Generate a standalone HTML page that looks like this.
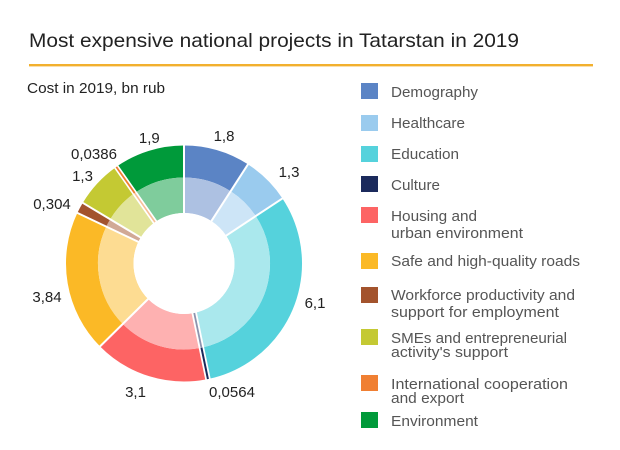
<!DOCTYPE html>
<html>
<head>
<meta charset="utf-8">
<style>
  html, body { margin:0; padding:0; background:#ffffff; }
  body { width:620px; height:450px; overflow:hidden; }
  svg { display:block; }
  text { font-family: "Liberation Sans", "DejaVu Sans", sans-serif; }
</style>
</head>
<body>
<svg width="620" height="450" viewBox="0 0 620 450" xmlns="http://www.w3.org/2000/svg">
  <rect x="0" y="0" width="620" height="450" fill="#ffffff"/>

  <!-- Title -->
  <text x="29" y="47" font-size="19.5" fill="#222222" textLength="490" lengthAdjust="spacingAndGlyphs">Most expensive national projects in Tatarstan in 2019</text>
  <rect x="29" y="64" width="564" height="2.4" fill="#f2b02e"/>
  <text x="27" y="93" font-size="15" fill="#222222" textLength="138" lengthAdjust="spacingAndGlyphs">Cost in 2019, bn rub</text>

  <!-- Donut -->
  <g transform="translate(184,263.5)">
    <!-- Outer ring r 86..118 -->
    <g fill="none" stroke-width="32">
      <circle r="102" pathLength="360" stroke="#5b84c5" stroke-dasharray="32.83 400" transform="rotate(-90)"/>
      <circle r="102" pathLength="360" stroke="#9acbee" stroke-dasharray="23.71 400" transform="rotate(-57.17)"/>
      <circle r="102" pathLength="360" stroke="#55d2dc" stroke-dasharray="111.25 400" transform="rotate(-33.46)"/>
      <circle r="102" pathLength="360" stroke="#fd6464" stroke-dasharray="56.54 400" transform="rotate(78.82)"/>
      <circle r="102" pathLength="360" stroke="#fbb926" stroke-dasharray="70.03 400" transform="rotate(135.36)"/>
      <circle r="102" pathLength="360" stroke="#a3532d" stroke-dasharray="5.54 400" transform="rotate(205.39)"/>
      <circle r="102" pathLength="360" stroke="#c4c933" stroke-dasharray="23.71 400" transform="rotate(210.93)"/>
      <circle r="102" pathLength="360" stroke="#009a3a" stroke-dasharray="34.65 400" transform="rotate(235.35)"/>
    </g>
    <!-- Inner ring r 50.5..86 -->
    <g fill="none" stroke-width="35.6">
      <circle r="68.25" pathLength="360" stroke="#adc1e2" stroke-dasharray="32.83 400" transform="rotate(-90)"/>
      <circle r="68.25" pathLength="360" stroke="#cde5f7" stroke-dasharray="23.71 400" transform="rotate(-57.17)"/>
      <circle r="68.25" pathLength="360" stroke="#aae8ed" stroke-dasharray="111.25 400" transform="rotate(-33.46)"/>
      <circle r="68.25" pathLength="360" stroke="#feb1b1" stroke-dasharray="56.54 400" transform="rotate(78.82)"/>
      <circle r="68.25" pathLength="360" stroke="#fddc92" stroke-dasharray="70.03 400" transform="rotate(135.36)"/>
      <circle r="68.25" pathLength="360" stroke="#d1a996" stroke-dasharray="5.54 400" transform="rotate(205.39)"/>
      <circle r="68.25" pathLength="360" stroke="#e1e499" stroke-dasharray="23.71 400" transform="rotate(210.93)"/>
      <circle r="68.25" pathLength="360" stroke="#7fcc9c" stroke-dasharray="34.65 400" transform="rotate(235.35)"/>
    </g>
    <!-- Separators -->
    <g stroke="#ffffff" stroke-width="2">
      <line x1="0" y1="-48" x2="0" y2="-121" transform="rotate(0)"/>
      <line x1="0" y1="-48" x2="0" y2="-121" transform="rotate(32.83)"/>
      <line x1="0" y1="-48" x2="0" y2="-121" transform="rotate(56.54)"/>
      <line x1="0" y1="-48" x2="0" y2="-121" transform="rotate(225.36)"/>
      <line x1="0" y1="-48" x2="0" y2="-121" transform="rotate(295.39)"/>
      <line x1="0" y1="-48" x2="0" y2="-121" transform="rotate(300.93)"/>
    </g>
    <!-- Culture (tiny) -->
    <g transform="rotate(168.3)">
      <line x1="0" y1="-48" x2="0" y2="-121" stroke="#ffffff" stroke-width="5.5"/>
      <line x1="0" y1="-86" x2="0" y2="-118" stroke="#1b2a5c" stroke-width="2"/>
      <line x1="0" y1="-50.5" x2="0" y2="-86" stroke="#8d94ae" stroke-width="1.8"/>
    </g>
    <!-- International (tiny) -->
    <g transform="rotate(325)">
      <line x1="0" y1="-48" x2="0" y2="-121" stroke="#ffffff" stroke-width="5"/>
      <line x1="0" y1="-86" x2="0" y2="-118" stroke="#f07f32" stroke-width="1.8"/>
      <line x1="0" y1="-50.5" x2="0" y2="-86" stroke="#f7bf98" stroke-width="1.6"/>
    </g>
    <circle r="50.5" fill="#ffffff"/>
  </g>

  <!-- Data labels -->
  <g font-size="15" fill="#222222" text-anchor="middle">
    <text x="224" y="141">1,8</text>
    <text x="289" y="177">1,3</text>
    <text x="315" y="308">6,1</text>
    <text x="232" y="397">0,0564</text>
    <text x="135.5" y="397">3,1</text>
    <text x="47" y="302">3,84</text>
    <text x="52" y="209">0,304</text>
    <text x="82.5" y="181">1,3</text>
    <text x="94" y="159">0,0386</text>
    <text x="149.3" y="143">1,9</text>
  </g>

  <!-- Legend -->
  <g>
    <rect x="361" y="83" width="17" height="16" fill="#5b84c5"/>
    <rect x="361" y="115" width="17" height="16" fill="#9acbee"/>
    <rect x="361" y="146" width="17" height="16" fill="#55d2dc"/>
    <rect x="361" y="176" width="17" height="16" fill="#1b2a5c"/>
    <rect x="361" y="207" width="17" height="16" fill="#fd6464"/>
    <rect x="361" y="253" width="17" height="16" fill="#fbb926"/>
    <rect x="361" y="287" width="17" height="16" fill="#a3532d"/>
    <rect x="361" y="329" width="17" height="16" fill="#c4c933"/>
    <rect x="361" y="375" width="17" height="16" fill="#f07f32"/>
    <rect x="361" y="412" width="17" height="16" fill="#009a3a"/>
  </g>
  <g font-size="15" fill="#555555">
    <text x="391" y="97" textLength="87" lengthAdjust="spacingAndGlyphs">Demography</text>
    <text x="391" y="128" textLength="74" lengthAdjust="spacingAndGlyphs">Healthcare</text>
    <text x="391" y="159" textLength="68" lengthAdjust="spacingAndGlyphs">Education</text>
    <text x="391" y="190" textLength="49" lengthAdjust="spacingAndGlyphs">Culture</text>
    <text x="391" y="221" textLength="86" lengthAdjust="spacingAndGlyphs">Housing and</text>
    <text x="391" y="238" textLength="132" lengthAdjust="spacingAndGlyphs">urban environment</text>
    <text x="391" y="266" textLength="189" lengthAdjust="spacingAndGlyphs">Safe and high-quality roads</text>
    <text x="391" y="300" textLength="184" lengthAdjust="spacingAndGlyphs">Workforce productivity and</text>
    <text x="391" y="317" textLength="168" lengthAdjust="spacingAndGlyphs">support for employment</text>
    <text x="391" y="343" textLength="176" lengthAdjust="spacingAndGlyphs">SMEs and entrepreneurial</text>
    <text x="391" y="357" textLength="117" lengthAdjust="spacingAndGlyphs">activity's support</text>
    <text x="391" y="389" textLength="177" lengthAdjust="spacingAndGlyphs">International cooperation</text>
    <text x="391" y="403" textLength="73" lengthAdjust="spacingAndGlyphs">and export</text>
    <text x="391" y="426" textLength="87" lengthAdjust="spacingAndGlyphs">Environment</text>
  </g>
</svg>
</body>
</html>
